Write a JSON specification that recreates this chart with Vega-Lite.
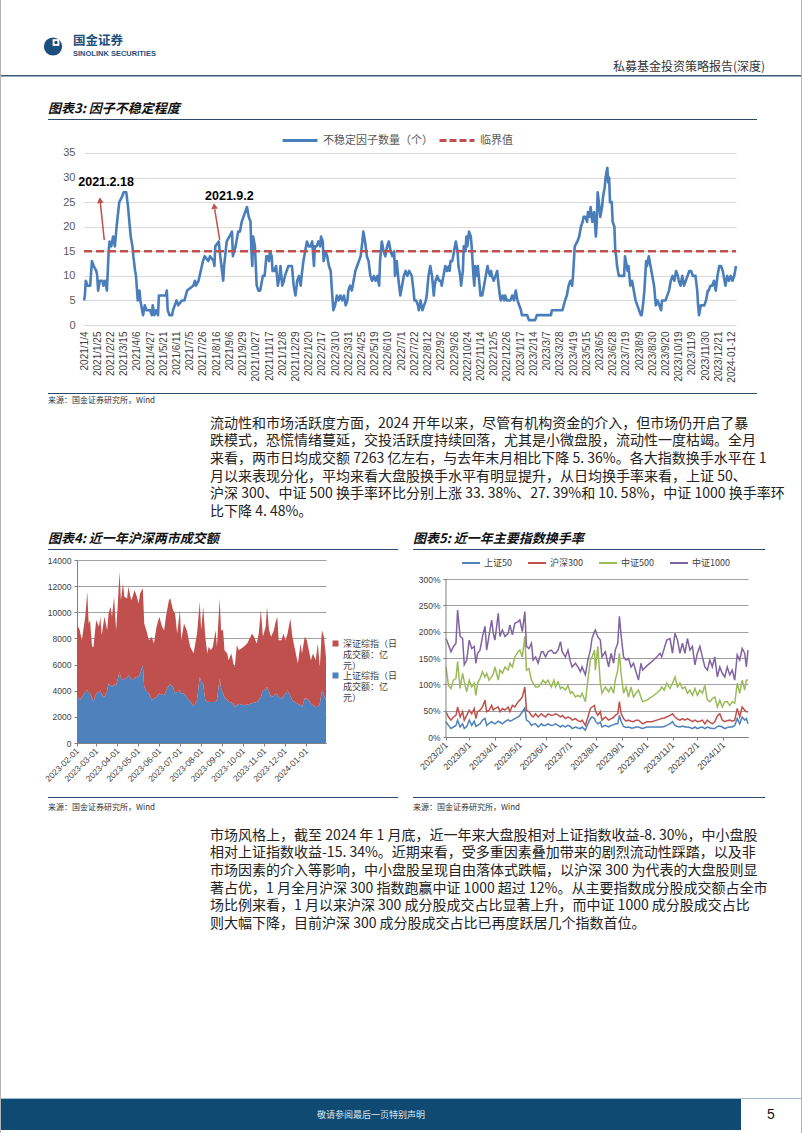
{
"$schema": "https://vega.github.io/schema/vega-lite/v6.json",
"padding": 0,
"background": "white",
"spacing": 0,
"resolve": {"scale": {"color": "independent"}, "legend": {"color": "independent"}},
"config": {
  "font": "Noto Sans CJK SC",
  "view": {"stroke": null},
  "axis": {"labelFont": "Liberation Sans", "labelOverlap": false},
  "legend": {"labelFont": "Noto Sans CJK SC"}
},
"hconcat": [
  {"width": 1, "height": 1133, "data": {"values": []}, "mark": "point", "view": {"fill": "#b4b4b4"}},
  {"spacing": 0, "resolve": {"scale": {"color": "independent"}, "legend": {"color": "independent"}}, "vconcat": [
    {"width": 1, "height": 35, "data": {"values": []}, "mark": "point"},
    {"spacing": 0, "bounds": "flush", "hconcat": [
      {"width": 44, "height": 23, "data": {"values": []}, "mark": "point"},
      {"width": 16, "height": 23, "layer": [
        {"data": {"values": [{}]}, "mark": {"type": "point", "shape": "circle", "filled": true, "size": 330, "color": "#1c4f7c", "opacity": 1}},
        {"data": {"values": [{}]}, "mark": {"type": "point", "shape": "square", "filled": true, "size": 45, "color": "white", "opacity": 1, "xOffset": 3, "yOffset": -4}},
        {"data": {"values": [{}]}, "mark": {"type": "point", "shape": "circle", "filled": true, "size": 12, "color": "#1c4f7c", "opacity": 1, "xOffset": 3, "yOffset": -4}}
      ]},
      {"width": 12, "height": 23, "data": {"values": []}, "mark": "point"},
      {"width": 90, "height": 23, "layer": [
        {"data": {"values": [{"t": "国金证券"}]}, "mark": {"type": "text", "align": "left", "baseline": "top", "fontSize": 12.5, "fontWeight": "bold", "color": "#1c4f7c"},
         "encoding": {"text": {"field": "t"}, "x": {"datum": 0, "type": "quantitative", "scale": {"domain": [0, 1]}, "axis": null}, "y": {"datum": 1, "type": "quantitative", "scale": {"domain": [0, 1]}, "axis": null}}},
        {"data": {"values": [{"t": "SINOLINK SECURITIES"}]}, "mark": {"type": "text", "align": "left", "baseline": "bottom", "fontSize": 7.5, "fontWeight": "bold", "font": "Liberation Sans", "color": "#1c4f7c"},
         "encoding": {"text": {"field": "t"}, "x": {"datum": 0, "type": "quantitative", "axis": null}, "y": {"datum": 0, "type": "quantitative", "axis": null}}}
      ]}
    ]},
    {"spacing": 0, "bounds": "flush", "hconcat": [
      {"width": 600, "height": 17, "data": {"values": []}, "mark": "point"},
      {"width": 164, "height": 17, "data": {"values": [{"t": "私募基金投资策略报告(深度)"}]}, "mark": {"type": "text", "align": "right", "baseline": "middle", "fontSize": 12, "color": "#333333"},
       "encoding": {"text": {"field": "t"}, "x": {"datum": 1, "type": "quantitative", "scale": {"domain": [0, 1]}, "axis": null}}}
    ]},
    {"width": 800, "height": 1.5, "data": {"values": []}, "mark": "point", "view": {"fill": "#3c5a7a"}},
    {"width": 1, "height": 24.5, "data": {"values": []}, "mark": "point"},
    {"spacing": 0, "bounds": "flush", "hconcat": [
      {"width": 47, "height": 14, "data": {"values": []}, "mark": "point"},
      {"width": 400, "height": 14, "data": {"values": [{"t": "图表3: 因子不稳定程度"}]}, "mark": {"type": "text", "align": "left", "baseline": "middle", "fontSize": 13, "fontWeight": "bold", "fontStyle": "italic", "color": "#111111"},
       "encoding": {"text": {"field": "t"}, "x": {"datum": 0, "type": "quantitative", "scale": {"domain": [0, 1]}, "axis": null}}}
    ]},
    {"width": 1, "height": 2.5, "data": {"values": []}, "mark": "point"},
    {"spacing": 0, "bounds": "flush", "hconcat": [
      {"width": 47, "height": 1, "data": {"values": []}, "mark": "point"},
      {"width": 709, "height": 1, "data": {"values": []}, "mark": "point", "view": {"fill": "#2c4a6b"}}
    ]},
    {"width": 1, "height": 0.5, "data": {"values": []}, "mark": "point"},
    {"spacing": 0, "bounds": "flush", "resolve": {"scale": {"color": "independent"}, "legend": {"color": "independent"}}, "hconcat": [
      {"width": 83, "height": 272, "data": {"values": []}, "mark": "point"},
      {"width": 652, "height": 204,
       "encoding": {
         "x": {"field": "d", "type": "quantitative", "scale": {"domain": [0, 740], "nice": false, "zero": false},
               "axis": {"values": [0,15,30,45,60,75,90,105,120,135,150,165,180,195,210,225,240,255,270,285,300,315,330,345,360,375,390,405,420,435,450,465,480,495,510,525,540,555,570,585,600,615,630,645,660,675,690,705,720,735],
                        "labelExpr": "['2021/1/4','2021/1/25','2021/2/22','2021/3/15','2021/4/6','2021/4/27','2021/5/21','2021/6/11','2021/7/5','2021/7/26','2021/8/16','2021/9/6','2021/9/29','2021/10/27','2021/11/17','2021/12/8','2021/12/29','2022/1/20','2022/2/17','2022/3/10','2022/3/31','2022/4/25','2022/5/19','2022/6/10','2022/7/1','2022/7/22','2022/8/12','2022/9/2','2022/9/26','2022/10/24','2022/11/14','2022/12/5','2022/12/26','2023/1/17','2023/2/14','2023/3/7','2023/3/28','2023/4/19','2023/5/15','2023/6/5','2023/6/28','2023/7/19','2023/8/9','2023/8/30','2023/9/20','2023/10/19','2023/11/9','2023/11/30','2023/12/21','2024-01-12'][round(datum.value/15)]",
                        "labelAngle": -90, "labelAlign": "right", "labelBaseline": "middle", "labelFontSize": 10, "labelColor": "#404040", "labelPadding": 6,
                        "labelOverlap": false, "labelFlush": false, "labelBound": false, "domain": false, "ticks": false, "grid": false, "title": null}},
         "y": {"field": "v", "type": "quantitative", "scale": {"domain": [0, 41.51], "nice": false, "zero": false},
               "axis": {"values": [0,5,10,15,20,25,30,35], "labelOverlap": false, "grid": true, "gridColor": "#d9d9d9", "domain": false, "ticks": false, "labelPadding": 9, "labelFontSize": 11, "labelColor": "#595959", "title": null}}
       },
       "layer": [
        {"data": {"values": [
{"d":0,"v":5},{"d":1,"v":6},{"d":2,"v":9},{"d":4,"v":8},{"d":7,"v":8},{"d":9,"v":13},{"d":11,"v":12},{"d":14,"v":11},{"d":15,"v":10},{"d":16,"v":7},{"d":17,"v":8},{"d":18,"v":9},{"d":21,"v":9},{"d":22,"v":8},{"d":24,"v":9},{"d":26,"v":7},{"d":28,"v":15},{"d":29,"v":17},{"d":31,"v":16},{"d":33,"v":18},{"d":35,"v":16},{"d":37,"v":20},{"d":40,"v":25},{"d":43,"v":26},{"d":45,"v":27},{"d":48,"v":27},{"d":50,"v":24},{"d":52,"v":20},{"d":53,"v":18},{"d":55,"v":16},{"d":56,"v":14},{"d":58,"v":11},{"d":59,"v":10},{"d":61,"v":5},{"d":63,"v":7},{"d":64,"v":5},{"d":67,"v":2},{"d":69,"v":4},{"d":71,"v":3},{"d":73,"v":3},{"d":75,"v":3},{"d":77,"v":2},{"d":78,"v":4},{"d":80,"v":2},{"d":82,"v":3},{"d":84,"v":2},{"d":85,"v":6},{"d":90,"v":6},{"d":93,"v":6},{"d":94,"v":7},{"d":95,"v":3},{"d":97,"v":2},{"d":100,"v":2},{"d":101,"v":3},{"d":103,"v":4},{"d":105,"v":5},{"d":107,"v":4},{"d":111,"v":5},{"d":114,"v":5},{"d":117,"v":7},{"d":124,"v":8},{"d":126,"v":9},{"d":127,"v":8},{"d":130,"v":9},{"d":135,"v":13},{"d":137,"v":14},{"d":141,"v":13},{"d":143,"v":14},{"d":147,"v":13},{"d":148,"v":12},{"d":149,"v":16},{"d":153,"v":17},{"d":154,"v":15},{"d":156,"v":12},{"d":158,"v":9},{"d":159,"v":12},{"d":162,"v":17},{"d":165,"v":18},{"d":168,"v":19},{"d":169,"v":14},{"d":172,"v":16},{"d":175,"v":19},{"d":177,"v":19},{"d":179,"v":21},{"d":181,"v":22},{"d":185,"v":24},{"d":187,"v":22},{"d":189,"v":21},{"d":190,"v":15},{"d":191,"v":12},{"d":192,"v":18},{"d":194,"v":16},{"d":195,"v":12},{"d":196,"v":8},{"d":198,"v":7},{"d":200,"v":7},{"d":201,"v":8},{"d":203,"v":10},{"d":205,"v":10},{"d":207,"v":14},{"d":208,"v":14},{"d":210,"v":13},{"d":211,"v":15},{"d":213,"v":14},{"d":214,"v":11},{"d":216,"v":11},{"d":218,"v":12},{"d":220,"v":8},{"d":222,"v":10},{"d":223,"v":12},{"d":225,"v":8},{"d":227,"v":9},{"d":228,"v":10},{"d":230,"v":11},{"d":232,"v":12},{"d":236,"v":12},{"d":238,"v":8},{"d":240,"v":6},{"d":242,"v":9},{"d":244,"v":10},{"d":246,"v":8},{"d":247,"v":10},{"d":249,"v":13},{"d":251,"v":15},{"d":253,"v":17},{"d":255,"v":16},{"d":257,"v":16},{"d":259,"v":17},{"d":261,"v":12},{"d":262,"v":16},{"d":264,"v":16},{"d":266,"v":17},{"d":268,"v":16},{"d":269,"v":18},{"d":271,"v":17},{"d":272,"v":13},{"d":274,"v":15},{"d":276,"v":14},{"d":278,"v":12},{"d":280,"v":11},{"d":281,"v":8},{"d":283,"v":3},{"d":285,"v":4},{"d":286,"v":5},{"d":287,"v":6},{"d":289,"v":5},{"d":291,"v":6},{"d":293,"v":5},{"d":295,"v":6},{"d":297,"v":4},{"d":299,"v":5},{"d":300,"v":7},{"d":302,"v":8},{"d":304,"v":7},{"d":306,"v":9},{"d":308,"v":11},{"d":310,"v":12},{"d":312,"v":13},{"d":314,"v":14},{"d":316,"v":17},{"d":317,"v":19},{"d":319,"v":17},{"d":321,"v":14},{"d":323,"v":13},{"d":325,"v":10},{"d":327,"v":9},{"d":329,"v":10},{"d":331,"v":9},{"d":333,"v":10},{"d":335,"v":8},{"d":336,"v":13},{"d":338,"v":17},{"d":340,"v":15},{"d":342,"v":14},{"d":344,"v":16},{"d":346,"v":17},{"d":348,"v":15},{"d":350,"v":14},{"d":352,"v":15},{"d":353,"v":10},{"d":355,"v":13},{"d":357,"v":9},{"d":359,"v":6},{"d":361,"v":8},{"d":363,"v":10},{"d":365,"v":11},{"d":367,"v":10},{"d":369,"v":11},{"d":372,"v":10},{"d":374,"v":7},{"d":375,"v":5},{"d":377,"v":5},{"d":379,"v":4},{"d":380,"v":3},{"d":382,"v":5},{"d":384,"v":3},{"d":386,"v":4},{"d":388,"v":5},{"d":389,"v":6},{"d":391,"v":10},{"d":393,"v":12},{"d":395,"v":10},{"d":397,"v":6},{"d":398,"v":8},{"d":399,"v":9},{"d":401,"v":10},{"d":403,"v":9},{"d":405,"v":9},{"d":406,"v":8},{"d":408,"v":10},{"d":410,"v":12},{"d":412,"v":11},{"d":414,"v":12},{"d":415,"v":11},{"d":416,"v":13},{"d":418,"v":13},{"d":420,"v":15},{"d":422,"v":17},{"d":424,"v":15},{"d":425,"v":12},{"d":427,"v":10},{"d":428,"v":8},{"d":430,"v":11},{"d":431,"v":16},{"d":433,"v":15},{"d":434,"v":18},{"d":435,"v":16},{"d":437,"v":19},{"d":439,"v":18},{"d":440,"v":16},{"d":441,"v":13},{"d":442,"v":10},{"d":443,"v":8},{"d":444,"v":12},{"d":446,"v":10},{"d":447,"v":12},{"d":449,"v":8},{"d":450,"v":6},{"d":452,"v":6},{"d":454,"v":8},{"d":456,"v":10},{"d":458,"v":12},{"d":459,"v":11},{"d":461,"v":10},{"d":462,"v":11},{"d":463,"v":10},{"d":465,"v":9},{"d":467,"v":10},{"d":469,"v":11},{"d":470,"v":9},{"d":472,"v":6},{"d":473,"v":5},{"d":475,"v":6},{"d":477,"v":5},{"d":478,"v":6},{"d":480,"v":5},{"d":484,"v":5},{"d":486,"v":6},{"d":488,"v":5},{"d":490,"v":7},{"d":492,"v":5},{"d":494,"v":4},{"d":496,"v":3},{"d":497,"v":2},{"d":503,"v":2},{"d":505,"v":1},{"d":512,"v":1},{"d":514,"v":2},{"d":530,"v":2},{"d":531,"v":3},{"d":543,"v":3},{"d":546,"v":5},{"d":548,"v":6},{"d":550,"v":8},{"d":552,"v":9},{"d":554,"v":8},{"d":555,"v":10},{"d":557,"v":16},{"d":560,"v":17},{"d":562,"v":18},{"d":564,"v":20},{"d":566,"v":21},{"d":567,"v":22},{"d":569,"v":22},{"d":571,"v":21},{"d":572,"v":23},{"d":574,"v":22},{"d":575,"v":24},{"d":577,"v":21},{"d":579,"v":23},{"d":581,"v":18},{"d":582,"v":21},{"d":583,"v":27},{"d":585,"v":24},{"d":586,"v":22},{"d":588,"v":24},{"d":589,"v":26},{"d":591,"v":28},{"d":592,"v":30},{"d":594,"v":32},{"d":595,"v":29},{"d":596,"v":30},{"d":597,"v":25},{"d":599,"v":25},{"d":600,"v":21},{"d":602,"v":20},{"d":603,"v":15},{"d":604,"v":14},{"d":605,"v":12},{"d":607,"v":10},{"d":611,"v":10},{"d":613,"v":10},{"d":614,"v":14},{"d":615,"v":13},{"d":617,"v":11},{"d":618,"v":12},{"d":619,"v":10},{"d":620,"v":8},{"d":622,"v":9},{"d":624,"v":7},{"d":626,"v":5},{"d":628,"v":4},{"d":630,"v":3},{"d":632,"v":2},{"d":633,"v":2},{"d":635,"v":5},{"d":636,"v":7},{"d":638,"v":13},{"d":639,"v":12},{"d":641,"v":14},{"d":643,"v":12},{"d":645,"v":10},{"d":647,"v":8},{"d":649,"v":4},{"d":651,"v":5},{"d":653,"v":4},{"d":655,"v":3},{"d":656,"v":5},{"d":660,"v":5},{"d":664,"v":7},{"d":666,"v":9},{"d":668,"v":10},{"d":670,"v":9},{"d":672,"v":11},{"d":674,"v":10},{"d":675,"v":9},{"d":677,"v":8},{"d":679,"v":10},{"d":681,"v":8},{"d":683,"v":9},{"d":685,"v":10},{"d":687,"v":11},{"d":689,"v":11},{"d":691,"v":10},{"d":694,"v":10},{"d":696,"v":7},{"d":697,"v":4},{"d":698,"v":2},{"d":700,"v":4},{"d":702,"v":4},{"d":704,"v":4},{"d":706,"v":5},{"d":708,"v":7},{"d":709,"v":7},{"d":711,"v":8},{"d":713,"v":8},{"d":715,"v":9},{"d":717,"v":7},{"d":719,"v":10},{"d":721,"v":12},{"d":723,"v":12},{"d":725,"v":11},{"d":726,"v":10},{"d":728,"v":8},{"d":730,"v":10},{"d":732,"v":9},{"d":734,"v":10},{"d":736,"v":9},{"d":738,"v":10},{"d":740,"v":12}
        ]},
         "mark": {"type": "line", "strokeWidth": 2.6, "strokeJoin": "round"},
         "encoding": {
           "color": {"datum": "不稳定因子数量（个）", "type": "nominal",
                     "scale": {"domain": ["不稳定因子数量（个）", "临界值"], "range": ["#4a7ebb", "#c0504d"]},
                     "legend": {"orient": "none", "legendX": 197, "legendY": 0.5, "direction": "horizontal", "title": null,
                                "symbolType": "stroke", "symbolSize": 1225, "symbolStrokeWidth": 3, "labelFontSize": 11, "labelColor": "#595959",
                                "columnPadding": 0, "labelOffset": 4,
                                "encode": {"symbols": {"update": {"strokeDash": {"signal": "datum.value === '临界值' ? [7, 3] : [1, 0]"}}}}}}
         }},
        {"data": {"values": [{"d": 0, "v": 15}, {"d": 740, "v": 15}]}, "mark": {"type": "line", "strokeWidth": 2.6, "strokeDash": [8, 4]},
         "encoding": {"color": {"datum": "临界值", "type": "nominal"}}},
        {"data": {"values": [{"d": 23, "v": 17.3, "d2": 18.6, "v2": 24.8}, {"d": 154, "v": 17.3, "d2": 148.3, "v2": 23.6}]},
         "mark": {"type": "rule", "color": "#c0504d", "strokeWidth": 1.5},
         "encoding": {"x2": {"field": "d2"}, "y2": {"field": "v2"}}},
        {"data": {"values": [{"d": 18.2, "v": 25.4}, {"d": 147.8, "v": 24.2}]},
         "mark": {"type": "point", "shape": "triangle-up", "filled": true, "size": 45, "color": "#c0504d", "opacity": 1, "angle": -7}},
        {"data": {"values": [{"d": 25, "v": 29, "t": "2021.2.18"}, {"d": 165, "v": 26.2, "t": "2021.9.2"}]},
         "mark": {"type": "text", "font": "Liberation Sans", "fontWeight": "bold", "fontSize": 12.5, "color": "#000000"},
         "encoding": {"text": {"field": "t"}}}
      ]}
    ]},
    {"spacing": 0, "bounds": "flush", "hconcat": [
      {"width": 47, "height": 1, "data": {"values": []}, "mark": "point"},
      {"width": 709, "height": 1, "data": {"values": []}, "mark": "point", "view": {"fill": "#2c4a6b"}}
    ]},
    {"width": 1, "height": 3, "data": {"values": []}, "mark": "point"},
    {"spacing": 0, "bounds": "flush", "hconcat": [
      {"width": 47, "height": 8, "data": {"values": []}, "mark": "point"},
      {"width": 300, "height": 8, "data": {"values": [{"t": "来源：国金证券研究所，Wind"}]}, "mark": {"type": "text", "align": "left", "baseline": "middle", "fontSize": 8, "color": "#333333"},
       "encoding": {"text": {"field": "t"}, "x": {"datum": 0, "type": "quantitative", "scale": {"domain": [0, 1]}, "axis": null}}}
    ]},
    {"width": 1, "height": 9.2, "data": {"values": []}, "mark": "point"},
    {"spacing": 0, "bounds": "flush", "hconcat": [
      {"width": 209, "height": 105.6, "data": {"values": []}, "mark": "point"},
      {"width": 548, "height": 105.6, "data": {"values": [
        {"line": 1, "t": "流动性和市场活跃度方面，2024 开年以来，尽管有机构资金的介入，但市场仍开启了暴"},
        {"line": 2, "t": "跌模式，恐慌情绪蔓延，交投活跃度持续回落，尤其是小微盘股，流动性一度枯竭。全月"},
        {"line": 3, "t": "来看，两市日均成交额 7263 亿左右，与去年末月相比下降 5. 36%。各大指数换手水平在 1"},
        {"line": 4, "t": "月以来表现分化，平均来看大盘股换手水平有明显提升，从日均换手率来看，上证 50、"},
        {"line": 5, "t": "沪深 300、中证 500 换手率环比分别上涨 33. 38%、27. 39%和 10. 58%，中证 1000 换手率环"},
        {"line": 6, "t": "比下降 4. 48%。"}
       ]},
       "mark": {"type": "text", "align": "left", "baseline": "middle", "fontSize": 14, "color": "#222222"},
       "encoding": {"text": {"field": "t"}, "x": {"datum": 0, "type": "quantitative", "scale": {"domain": [0, 1]}, "axis": null},
                    "y": {"field": "line", "type": "ordinal", "axis": null, "scale": {"type": "point", "padding": 0.5}}}}
    ]},
    {"width": 1, "height": 10.2, "data": {"values": []}, "mark": "point"},
    {"spacing": 0, "bounds": "flush", "hconcat": [
      {"width": 47, "height": 14, "data": {"values": []}, "mark": "point"},
      {"width": 365, "height": 14, "data": {"values": [{"t": "图表4: 近一年沪深两市成交额"}]}, "mark": {"type": "text", "align": "left", "baseline": "middle", "fontSize": 13, "fontWeight": "bold", "fontStyle": "italic", "color": "#111111"},
       "encoding": {"text": {"field": "t"}, "x": {"datum": 0, "type": "quantitative", "scale": {"domain": [0, 1]}, "axis": null}}},
      {"width": 387, "height": 14, "data": {"values": [{"t": "图表5: 近一年主要指数换手率"}]}, "mark": {"type": "text", "align": "left", "baseline": "middle", "fontSize": 13, "fontWeight": "bold", "fontStyle": "italic", "color": "#111111"},
       "encoding": {"text": {"field": "t"}, "x": {"datum": 0, "type": "quantitative", "scale": {"domain": [0, 1]}, "axis": null}}}
    ]},
    {"width": 1, "height": 3, "data": {"values": []}, "mark": "point"},
    {"spacing": 0, "bounds": "flush", "hconcat": [
      {"width": 47, "height": 1, "data": {"values": []}, "mark": "point"},
      {"width": 350, "height": 1, "data": {"values": []}, "mark": "point", "view": {"fill": "#2c4a6b"}},
      {"width": 15, "height": 1, "data": {"values": []}, "mark": "point"},
      {"width": 352, "height": 1, "data": {"values": []}, "mark": "point", "view": {"fill": "#2c4a6b"}}
    ]},
    {"width": 1, "height": 2.5, "data": {"values": []}, "mark": "point"},
    {"spacing": 0, "bounds": "flush", "resolve": {"scale": {"color": "independent"}, "legend": {"color": "independent"}}, "hconcat": [
      {"width": 76, "height": 237, "data": {"values": []}, "mark": "point"},
      {"width": 249, "height": 183,
       "data": {"values": [
{"date":"2023-02-01","sh":3650,"sz":5450},{"date":"2023-02-05","sh":3270,"sz":5360},{"date":"2023-02-08","sh":3500,"sz":4370},{"date":"2023-02-13","sh":3900,"sz":5750},{"date":"2023-02-16","sh":4040,"sz":7530},{"date":"2023-02-18","sh":3900,"sz":5240},{"date":"2023-02-20","sh":3780,"sz":5620},{"date":"2023-02-23","sh":3400,"sz":3960},{"date":"2023-02-25","sh":3140,"sz":4220},{"date":"2023-03-01","sh":3780,"sz":5620},{"date":"2023-03-05","sh":3900,"sz":4990},{"date":"2023-03-07","sh":4040,"sz":5610},{"date":"2023-03-09","sh":3700,"sz":4550},{"date":"2023-03-13","sh":3520,"sz":6130},{"date":"2023-03-17","sh":4000,"sz":4630},{"date":"2023-03-19","sh":4550,"sz":5360},{"date":"2023-03-22","sh":4400,"sz":6020},{"date":"2023-03-24","sh":4290,"sz":5360},{"date":"2023-03-27","sh":4500,"sz":6690},{"date":"2023-03-30","sh":4400,"sz":4230},{"date":"2023-04-01","sh":4800,"sz":5370},{"date":"2023-04-04","sh":5440,"sz":7660},{"date":"2023-04-06","sh":5000,"sz":5930},{"date":"2023-04-09","sh":4800,"sz":7410},{"date":"2023-04-11","sh":4900,"sz":6290},{"date":"2023-04-15","sh":5000,"sz":6060},{"date":"2023-04-17","sh":5190,"sz":6760},{"date":"2023-04-21","sh":4900,"sz":6030},{"date":"2023-04-23","sh":4800,"sz":6390},{"date":"2023-04-26","sh":5000,"sz":6700},{"date":"2023-04-30","sh":5060,"sz":6000},{"date":"2023-05-02","sh":5060,"sz":5620},{"date":"2023-05-04","sh":5300,"sz":6140},{"date":"2023-05-08","sh":5950,"sz":5880},{"date":"2023-05-10","sh":4290,"sz":4850},{"date":"2023-05-13","sh":4000,"sz":4630},{"date":"2023-05-17","sh":3780,"sz":4090},{"date":"2023-05-21","sh":3270,"sz":4850},{"date":"2023-05-24","sh":3400,"sz":4210},{"date":"2023-05-28","sh":3520,"sz":5370},{"date":"2023-06-01","sh":3780,"sz":5870},{"date":"2023-06-05","sh":3700,"sz":5190},{"date":"2023-06-08","sh":3650,"sz":4980},{"date":"2023-06-11","sh":4000,"sz":5780},{"date":"2023-06-15","sh":4420,"sz":6510},{"date":"2023-06-17","sh":4500,"sz":6560},{"date":"2023-06-21","sh":4290,"sz":5880},{"date":"2023-06-24","sh":3780,"sz":6130},{"date":"2023-06-27","sh":3900,"sz":4480},{"date":"2023-07-01","sh":4040,"sz":6130},{"date":"2023-07-03","sh":3800,"sz":4070},{"date":"2023-07-07","sh":3780,"sz":5360},{"date":"2023-07-11","sh":3520,"sz":5110},{"date":"2023-07-16","sh":3200,"sz":4160},{"date":"2023-07-21","sh":2800,"sz":4050},{"date":"2023-07-26","sh":3300,"sz":5080},{"date":"2023-07-30","sh":5060,"sz":5740},{"date":"2023-08-01","sh":4700,"sz":3930},{"date":"2023-08-04","sh":4500,"sz":5920},{"date":"2023-08-07","sh":3270,"sz":4850},{"date":"2023-08-10","sh":3200,"sz":3650},{"date":"2023-08-12","sh":3140,"sz":4220},{"date":"2023-08-15","sh":3140,"sz":3960},{"date":"2023-08-18","sh":3140,"sz":4220},{"date":"2023-08-22","sh":3140,"sz":5490},{"date":"2023-08-24","sh":3300,"sz":4060},{"date":"2023-08-28","sh":4930,"sz":6130},{"date":"2023-08-30","sh":4200,"sz":4430},{"date":"2023-09-02","sh":3780,"sz":4850},{"date":"2023-09-04","sh":3500,"sz":3600},{"date":"2023-09-08","sh":3270,"sz":3580},{"date":"2023-09-10","sh":3150,"sz":3180},{"date":"2023-09-14","sh":3100,"sz":3750},{"date":"2023-09-17","sh":3010,"sz":3070},{"date":"2023-09-19","sh":2760,"sz":3060},{"date":"2023-09-22","sh":2900,"sz":4580},{"date":"2023-09-25","sh":3010,"sz":4090},{"date":"2023-10-02","sh":2890,"sz":4470},{"date":"2023-10-07","sh":2950,"sz":4660},{"date":"2023-10-12","sh":3010,"sz":5110},{"date":"2023-10-14","sh":3050,"sz":5330},{"date":"2023-10-17","sh":3100,"sz":5020},{"date":"2023-10-21","sh":3140,"sz":4470},{"date":"2023-10-24","sh":3300,"sz":5080},{"date":"2023-10-27","sh":3520,"sz":6650},{"date":"2023-10-30","sh":4040,"sz":4080},{"date":"2023-11-03","sh":4100,"sz":4790},{"date":"2023-11-05","sh":4290,"sz":6130},{"date":"2023-11-08","sh":3900,"sz":4730},{"date":"2023-11-11","sh":3520,"sz":4600},{"date":"2023-11-15","sh":3600,"sz":5030},{"date":"2023-11-17","sh":3780,"sz":5360},{"date":"2023-11-20","sh":3700,"sz":5950},{"date":"2023-11-22","sh":3550,"sz":4320},{"date":"2023-11-26","sh":3400,"sz":4470},{"date":"2023-11-29","sh":3600,"sz":4780},{"date":"2023-12-02","sh":3780,"sz":4090},{"date":"2023-12-05","sh":4040,"sz":4340},{"date":"2023-12-09","sh":3600,"sz":5930},{"date":"2023-12-12","sh":3270,"sz":4850},{"date":"2023-12-15","sh":3150,"sz":4210},{"date":"2023-12-18","sh":3050,"sz":3540},{"date":"2023-12-20","sh":3010,"sz":3070},{"date":"2023-12-24","sh":2900,"sz":4710},{"date":"2023-12-26","sh":2760,"sz":4090},{"date":"2023-12-30","sh":3400,"sz":4720},{"date":"2024-01-02","sh":3400,"sz":4470},{"date":"2024-01-05","sh":3270,"sz":3830},{"date":"2024-01-08","sh":3000,"sz":3330},{"date":"2024-01-11","sh":2900,"sz":3950},{"date":"2024-01-15","sh":2760,"sz":3570},{"date":"2024-01-18","sh":2760,"sz":4850},{"date":"2024-01-21","sh":3000,"sz":2820},{"date":"2024-01-24","sh":4040,"sz":4590},{"date":"2024-01-27","sh":3650,"sz":4470},{"date":"2024-01-30","sh":3270,"sz":3320}
       ]},
       "transform": [{"fold": ["sh", "sz"], "as": ["series", "value"]}],
       "mark": {"type": "area", "opacity": 1},
       "encoding": {
         "x": {"field": "date", "type": "temporal",
               "scale": {"domain": [{"year": 2023, "month": 2, "date": 1}, {"year": 2024, "month": 1, "date": 30}]},
               "axis": {"values": [{"year":2023,"month":2,"date":1},{"year":2023,"month":3,"date":1},{"year":2023,"month":4,"date":1},{"year":2023,"month":5,"date":1},{"year":2023,"month":6,"date":1},{"year":2023,"month":7,"date":1},{"year":2023,"month":8,"date":1},{"year":2023,"month":9,"date":1},{"year":2023,"month":10,"date":1},{"year":2023,"month":11,"date":1},{"year":2023,"month":12,"date":1},{"year":2024,"month":1,"date":1}],
                        "format": "%Y-%m-%d", "labelAngle": -45, "labelAlign": "right", "labelBaseline": "middle", "labelFontSize": 8.5, "labelColor": "#404040", "labelPadding": 3,
                        "labelOverlap": false, "labelFlush": false, "labelBound": false, "grid": false, "domainColor": "#808080", "tickColor": "#808080", "tickSize": 3, "title": null}},
         "y": {"field": "value", "type": "quantitative", "stack": "zero", "scale": {"domain": [0, 14000], "nice": false},
               "axis": {"values": [0,2000,4000,6000,8000,10000,12000,14000], "format": "d", "labelOverlap": false, "grid": true, "gridColor": "#a0a0a0", "domainColor": "#808080", "tickColor": "#808080", "tickSize": 3,
                        "labelFontSize": 8.5, "labelColor": "#404040", "labelPadding": 3, "title": null}},
         "color": {"field": "series", "type": "nominal", "scale": {"domain": ["sz", "sh"], "range": ["#c0504d", "#4f81bd"]},
                   "legend": {"orient": "none", "legendX": 254, "legendY": 79, "direction": "vertical", "title": null,
                              "symbolType": "square", "symbolSize": 36, "labelFontSize": 9, "labelColor": "#404040", "labelOffset": 3, "rowPadding": 0,
                              "labelExpr": "datum.value == 'sz' ? ['深证综指（日', '成交额：亿', '元）'] : ['上证综指（日', '成交额：亿', '元）']",
                              "encode": {"labels": {"update": {"lineHeight": {"value": 10.5}}}}}},
         "order": {"field": "series", "sort": "ascending"}
       }},
      {"width": 120, "height": 1, "data": {"values": []}, "mark": "point"},
      {"width": 302, "height": 177,
       "encoding": {
         "x": {"field": "date", "type": "temporal",
               "scale": {"domain": [{"year": 2023, "month": 2, "date": 1}, {"year": 2024, "month": 1, "date": 31}]},
               "axis": {"values": [{"year":2023,"month":2,"date":1},{"year":2023,"month":3,"date":1},{"year":2023,"month":4,"date":1},{"year":2023,"month":5,"date":1},{"year":2023,"month":6,"date":1},{"year":2023,"month":7,"date":1},{"year":2023,"month":8,"date":1},{"year":2023,"month":9,"date":1},{"year":2023,"month":10,"date":1},{"year":2023,"month":11,"date":1},{"year":2023,"month":12,"date":1},{"year":2024,"month":1,"date":1}],
                        "format": "%Y/%-m/%-d", "labelAngle": -45, "labelAlign": "right", "labelBaseline": "middle", "labelFontSize": 9, "labelColor": "#404040", "labelPadding": 3,
                        "labelOverlap": false, "labelFlush": false, "labelBound": false, "grid": false, "domainColor": "#808080", "tickColor": "#808080", "tickSize": 3, "title": null}},
         "y": {"field": "pct", "type": "quantitative", "scale": {"domain": [0, 336.08], "nice": false, "zero": false},
               "axis": {"values": [0,50,100,150,200,250,300], "labelExpr": "datum.value + '%'", "labelOverlap": false, "grid": true, "gridColor": "#a0a0a0", "domain": false, "tickColor": "#808080", "tickSize": 3,
                        "labelFontSize": 8.5, "labelColor": "#404040", "labelPadding": 3, "title": null}}
       },
       "layer": [
        {"data": {"values": [
{"date":"2023-02-01","s50":29,"s300":48,"s500":133,"s1000":187},{"date":"2023-02-04","s50":22,"s300":38,"s500":98,"s1000":175},{"date":"2023-02-07","s50":16,"s300":32,"s500":92,"s1000":162},{"date":"2023-02-10","s50":19,"s300":38,"s500":108,"s1000":172},{"date":"2023-02-13","s50":22,"s300":41,"s500":111,"s1000":178},{"date":"2023-02-15","s50":32,"s300":57,"s500":143,"s1000":241},{"date":"2023-02-18","s50":19,"s300":38,"s500":92,"s1000":191},{"date":"2023-02-21","s50":25,"s300":48,"s500":121,"s1000":187},{"date":"2023-02-23","s50":16,"s300":32,"s500":105,"s1000":137},{"date":"2023-02-26","s50":20,"s300":41,"s500":86,"s1000":146},{"date":"2023-03-01","s50":32,"s300":51,"s500":108,"s1000":184},{"date":"2023-03-04","s50":22,"s300":44,"s500":95,"s1000":168},{"date":"2023-03-07","s50":30,"s300":54,"s500":102,"s1000":172},{"date":"2023-03-09","s50":20,"s300":35,"s500":79,"s1000":140},{"date":"2023-03-11","s50":22,"s300":48,"s500":102,"s1000":159},{"date":"2023-03-14","s50":25,"s300":51,"s500":111,"s1000":165},{"date":"2023-03-17","s50":32,"s300":57,"s500":124,"s1000":191},{"date":"2023-03-20","s50":35,"s300":70,"s500":114,"s1000":210},{"date":"2023-03-22","s50":22,"s300":48,"s500":121,"s1000":165},{"date":"2023-03-25","s50":26,"s300":51,"s500":108,"s1000":194},{"date":"2023-03-28","s50":29,"s300":60,"s500":114,"s1000":222},{"date":"2023-03-30","s50":27,"s300":51,"s500":120,"s1000":197},{"date":"2023-04-01","s50":25,"s300":54,"s500":133,"s1000":184},{"date":"2023-04-05","s50":30,"s300":57,"s500":108,"s1000":235},{"date":"2023-04-07","s50":28,"s300":48,"s500":127,"s1000":191},{"date":"2023-04-10","s50":25,"s300":54,"s500":121,"s1000":203},{"date":"2023-04-13","s50":29,"s300":51,"s500":133,"s1000":191},{"date":"2023-04-17","s50":33,"s300":57,"s500":127,"s1000":197},{"date":"2023-04-19","s50":30,"s300":48,"s500":140,"s1000":213},{"date":"2023-04-22","s50":32,"s300":60,"s500":133,"s1000":194},{"date":"2023-04-25","s50":35,"s300":57,"s500":152,"s1000":216},{"date":"2023-04-29","s50":38,"s300":67,"s500":162,"s1000":219},{"date":"2023-05-01","s50":41,"s300":70,"s500":165,"s1000":222},{"date":"2023-05-04","s50":48,"s300":76,"s500":152,"s1000":200},{"date":"2023-05-07","s50":55,"s300":95,"s500":191,"s1000":238},{"date":"2023-05-09","s50":32,"s300":51,"s500":127,"s1000":172},{"date":"2023-05-12","s50":29,"s300":48,"s500":130,"s1000":168},{"date":"2023-05-15","s50":22,"s300":41,"s500":108,"s1000":178},{"date":"2023-05-17","s50":24,"s300":38,"s500":102,"s1000":146},{"date":"2023-05-20","s50":25,"s300":44,"s500":95,"s1000":152},{"date":"2023-05-23","s50":19,"s300":38,"s500":95,"s1000":140},{"date":"2023-05-27","s50":25,"s300":44,"s500":102,"s1000":162},{"date":"2023-05-29","s50":22,"s300":41,"s500":108,"s1000":162},{"date":"2023-06-01","s50":22,"s300":38,"s500":102,"s1000":152},{"date":"2023-06-04","s50":25,"s300":44,"s500":108,"s1000":162},{"date":"2023-06-08","s50":22,"s300":41,"s500":95,"s1000":165},{"date":"2023-06-11","s50":23,"s300":42,"s500":108,"s1000":159},{"date":"2023-06-13","s50":25,"s300":44,"s500":95,"s1000":159},{"date":"2023-06-16","s50":22,"s300":42,"s500":105,"s1000":165},{"date":"2023-06-19","s50":19,"s300":38,"s500":92,"s1000":181},{"date":"2023-06-21","s50":22,"s300":41,"s500":95,"s1000":162},{"date":"2023-06-25","s50":19,"s300":35,"s500":89,"s1000":152},{"date":"2023-06-28","s50":22,"s300":38,"s500":98,"s1000":165},{"date":"2023-07-01","s50":20,"s300":36,"s500":83,"s1000":143},{"date":"2023-07-03","s50":16,"s300":32,"s500":86,"s1000":133},{"date":"2023-07-07","s50":19,"s300":35,"s500":76,"s1000":140},{"date":"2023-07-10","s50":17,"s300":31,"s500":79,"s1000":133},{"date":"2023-07-13","s50":16,"s300":29,"s500":76,"s1000":124},{"date":"2023-07-15","s50":19,"s300":32,"s500":83,"s1000":133},{"date":"2023-07-19","s50":13,"s300":22,"s500":67,"s1000":118},{"date":"2023-07-22","s50":25,"s300":38,"s500":108,"s1000":146},{"date":"2023-07-25","s50":35,"s300":54,"s500":146,"s1000":165},{"date":"2023-07-27","s50":38,"s300":57,"s500":152,"s1000":187},{"date":"2023-07-30","s50":35,"s300":60,"s500":165,"s1000":200},{"date":"2023-07-31","s50":30,"s300":50,"s500":127,"s1000":203},{"date":"2023-08-03","s50":25,"s300":41,"s500":172,"s1000":190},{"date":"2023-08-06","s50":28,"s300":48,"s500":102,"s1000":184},{"date":"2023-08-08","s50":19,"s300":32,"s500":83,"s1000":152},{"date":"2023-08-12","s50":22,"s300":38,"s500":95,"s1000":162},{"date":"2023-08-16","s50":19,"s300":32,"s500":86,"s1000":133},{"date":"2023-08-19","s50":22,"s300":35,"s500":95,"s1000":159},{"date":"2023-08-22","s50":23,"s300":37,"s500":83,"s1000":140},{"date":"2023-08-24","s50":25,"s300":41,"s500":108,"s1000":165},{"date":"2023-08-27","s50":25,"s300":44,"s500":127,"s1000":178},{"date":"2023-08-29","s50":41,"s300":67,"s500":159,"s1000":229},{"date":"2023-08-31","s50":30,"s300":45,"s500":121,"s1000":194},{"date":"2023-09-03","s50":20,"s300":35,"s500":83,"s1000":152},{"date":"2023-09-06","s50":18,"s300":30,"s500":95,"s1000":146},{"date":"2023-09-09","s50":19,"s300":32,"s500":76,"s1000":149},{"date":"2023-09-12","s50":17,"s300":30,"s500":95,"s1000":133},{"date":"2023-09-15","s50":17,"s300":29,"s500":76,"s1000":140},{"date":"2023-09-18","s50":19,"s300":32,"s500":83,"s1000":124},{"date":"2023-09-21","s50":19,"s300":32,"s500":89,"s1000":108},{"date":"2023-09-24","s50":17,"s300":28,"s500":76,"s1000":140},{"date":"2023-09-26","s50":16,"s300":25,"s500":67,"s1000":127},{"date":"2023-10-01","s50":19,"s300":29,"s500":70,"s1000":135},{"date":"2023-10-07","s50":19,"s300":29,"s500":76,"s1000":143},{"date":"2023-10-13","s50":19,"s300":32,"s500":83,"s1000":152},{"date":"2023-10-17","s50":19,"s300":34,"s500":89,"s1000":159},{"date":"2023-10-19","s50":19,"s300":35,"s500":95,"s1000":152},{"date":"2023-10-22","s50":20,"s300":36,"s500":89,"s1000":168},{"date":"2023-10-25","s50":22,"s300":38,"s500":102,"s1000":184},{"date":"2023-10-29","s50":25,"s300":41,"s500":92,"s1000":187},{"date":"2023-11-01","s50":29,"s300":44,"s500":102,"s1000":159},{"date":"2023-11-04","s50":22,"s300":38,"s500":114,"s1000":197},{"date":"2023-11-07","s50":20,"s300":34,"s500":95,"s1000":184},{"date":"2023-11-10","s50":19,"s300":32,"s500":102,"s1000":159},{"date":"2023-11-13","s50":21,"s300":35,"s500":92,"s1000":178},{"date":"2023-11-16","s50":19,"s300":32,"s500":95,"s1000":159},{"date":"2023-11-19","s50":19,"s300":35,"s500":83,"s1000":187},{"date":"2023-11-22","s50":18,"s300":32,"s500":89,"s1000":165},{"date":"2023-11-25","s50":16,"s300":29,"s500":79,"s1000":172},{"date":"2023-11-28","s50":19,"s300":32,"s500":92,"s1000":137},{"date":"2023-12-01","s50":16,"s300":29,"s500":79,"s1000":159},{"date":"2023-12-04","s50":18,"s300":30,"s500":89,"s1000":172},{"date":"2023-12-07","s50":19,"s300":32,"s500":83,"s1000":152},{"date":"2023-12-10","s50":16,"s300":25,"s500":98,"s1000":133},{"date":"2023-12-13","s50":19,"s300":32,"s500":70,"s1000":127},{"date":"2023-12-16","s50":17,"s300":28,"s500":67,"s1000":146},{"date":"2023-12-19","s50":16,"s300":25,"s500":73,"s1000":133},{"date":"2023-12-22","s50":16,"s300":29,"s500":76,"s1000":152},{"date":"2023-12-25","s50":20,"s300":40,"s500":57,"s1000":114},{"date":"2023-12-28","s50":21,"s300":44,"s500":70,"s1000":133},{"date":"2023-12-31","s50":19,"s300":32,"s500":57,"s1000":121},{"date":"2024-01-03","s50":16,"s300":29,"s500":67,"s1000":114},{"date":"2024-01-06","s50":18,"s300":31,"s500":67,"s1000":133},{"date":"2024-01-09","s50":19,"s300":32,"s500":60,"s1000":118},{"date":"2024-01-12","s50":19,"s300":30,"s500":67,"s1000":127},{"date":"2024-01-15","s50":22,"s300":32,"s500":64,"s1000":108},{"date":"2024-01-18","s50":35,"s300":54,"s500":102,"s1000":156},{"date":"2024-01-21","s50":25,"s300":38,"s500":83,"s1000":146},{"date":"2024-01-24","s50":38,"s300":57,"s500":108,"s1000":168},{"date":"2024-01-27","s50":32,"s300":51,"s500":89,"s1000":159},{"date":"2024-01-29","s50":35,"s300":48,"s500":108,"s1000":133},{"date":"2024-01-31","s50":25,"s300":48,"s500":108,"s1000":165}
         ]},
         "transform": [{"fold": ["s50", "s300", "s500", "s1000"], "as": ["idx", "pct"]}],
         "mark": {"type": "line", "strokeWidth": 1.5},
         "encoding": {
           "color": {"field": "idx", "type": "nominal", "scale": {"domain": ["s50", "s300", "s500", "s1000"], "range": ["#4f81bd", "#c0504d", "#9bbb59", "#8064a2"]},
                     "legend": {"orient": "none", "legendX": 15, "legendY": -7, "direction": "horizontal", "title": null,
                                "symbolType": "stroke", "symbolSize": 324, "symbolStrokeWidth": 2, "labelFontSize": 9, "labelColor": "#404040",
                                "columnPadding": 12, "labelOffset": 3,
                                "labelExpr": "datum.value == 's50' ? '上证50' : datum.value == 's300' ? '沪深300' : datum.value == 's500' ? '中证500' : '中证1000'"}}
         }},
        {"data": {"values": [{"date": "2023-02-01", "pct": 0, "pct2": 300}]},
         "mark": {"type": "rule", "color": "#808080", "strokeWidth": 1},
         "encoding": {"y2": {"field": "pct2"}}}
      ]}
    ]},
    {"spacing": 0, "bounds": "flush", "hconcat": [
      {"width": 47, "height": 1, "data": {"values": []}, "mark": "point"},
      {"width": 350, "height": 1, "data": {"values": []}, "mark": "point", "view": {"fill": "#2c4a6b"}},
      {"width": 15, "height": 1, "data": {"values": []}, "mark": "point"},
      {"width": 352, "height": 1, "data": {"values": []}, "mark": "point", "view": {"fill": "#2c4a6b"}}
    ]},
    {"width": 1, "height": 6, "data": {"values": []}, "mark": "point"},
    {"spacing": 0, "bounds": "flush", "hconcat": [
      {"width": 47, "height": 8, "data": {"values": []}, "mark": "point"},
      {"width": 365, "height": 8, "data": {"values": [{"t": "来源：国金证券研究所，Wind"}]}, "mark": {"type": "text", "align": "left", "baseline": "middle", "fontSize": 8, "color": "#333333"},
       "encoding": {"text": {"field": "t"}, "x": {"datum": 0, "type": "quantitative", "scale": {"domain": [0, 1]}, "axis": null}}},
      {"width": 300, "height": 8, "data": {"values": [{"t": "来源：国金证券研究所，Wind"}]}, "mark": {"type": "text", "align": "left", "baseline": "middle", "fontSize": 8, "color": "#333333"},
       "encoding": {"text": {"field": "t"}, "x": {"datum": 0, "type": "quantitative", "scale": {"domain": [0, 1]}, "axis": null}}}
    ]},
    {"width": 1, "height": 14.2, "data": {"values": []}, "mark": "point"},
    {"spacing": 0, "bounds": "flush", "hconcat": [
      {"width": 209, "height": 105.6, "data": {"values": []}, "mark": "point"},
      {"width": 548, "height": 105.6, "data": {"values": [
        {"line": 1, "t": "市场风格上，截至 2024 年 1 月底，近一年来大盘股相对上证指数收益-8. 30%，中小盘股"},
        {"line": 2, "t": "相对上证指数收益-15. 34%。近期来看，受多重因素叠加带来的剧烈流动性踩踏，以及非"},
        {"line": 3, "t": "市场因素的介入等影响，中小盘股呈现自由落体式跌幅，以沪深 300 为代表的大盘股则显"},
        {"line": 4, "t": "著占优，1 月全月沪深 300 指数跑赢中证 1000 超过 12%。从主要指数成分股成交额占全市"},
        {"line": 5, "t": "场比例来看，1 月以来沪深 300 成分股成交占比显著上升，而中证 1000 成分股成交占比"},
        {"line": 6, "t": "则大幅下降，目前沪深 300 成分股成交占比已再度跃居几个指数首位。"}
       ]},
       "mark": {"type": "text", "align": "left", "baseline": "middle", "fontSize": 14, "color": "#222222"},
       "encoding": {"text": {"field": "t"}, "x": {"datum": 0, "type": "quantitative", "scale": {"domain": [0, 1]}, "axis": null},
                    "y": {"field": "line", "type": "ordinal", "axis": null, "scale": {"type": "point", "padding": 0.5}}}}
    ]},
    {"width": 1, "height": 164.2, "data": {"values": []}, "mark": "point"},
    {"width": 800, "height": 1, "data": {"values": []}, "mark": "point", "view": {"fill": "#9dbbd3"}},
    {"spacing": 0, "bounds": "flush", "hconcat": [
      {"width": 740, "height": 31, "view": {"fill": "#0e4a72"}, "data": {"values": [{"t": "敬请参阅最后一页特别声明"}]},
       "mark": {"type": "text", "fontSize": 9, "color": "#dde6ee"}, "encoding": {"text": {"field": "t"}}},
      {"width": 60, "height": 31, "data": {"values": [{"t": "5"}]},
       "mark": {"type": "text", "fontSize": 14, "font": "Liberation Sans", "color": "#111111"}, "encoding": {"text": {"field": "t"}}}
    ]},
    {"width": 1, "height": 5, "data": {"values": []}, "mark": "point"}
  ]},
  {"width": 1, "height": 1133, "data": {"values": []}, "mark": "point", "view": {"fill": "#b4b4b4"}}
]
}
